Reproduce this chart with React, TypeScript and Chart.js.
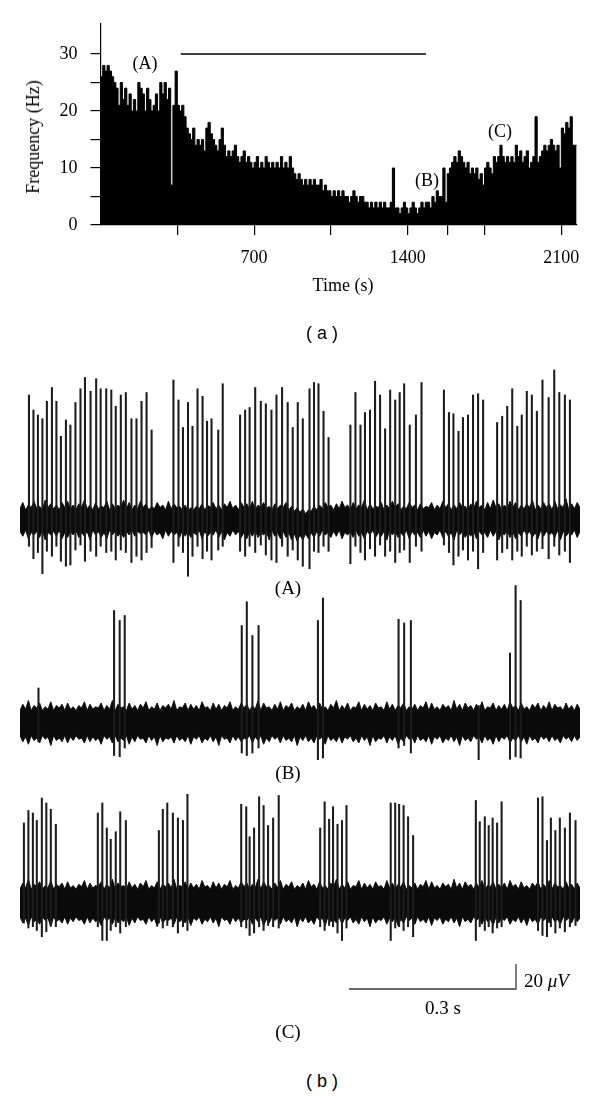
import React, { useEffect, useRef } from 'react';
import { Chart, registerables } from 'chart.js';
Chart.register(...registerables);

// ---------- Panel (a): firing-frequency histogram ----------
const histBinStart = 0;
const histBinWidth = 10; // s
const histValues = [
  25, 26, 28, 27, 28, 27, 26, 25, 24, 21,
  25, 22, 24, 21, 23, 20, 22, 20, 25, 24,
  23, 20, 24, 22, 20, 21, 23, 20, 25, 23,
  25, 22, 24, 7, 21, 27, 21, 20, 21, 19,
  17, 16, 15, 17, 14, 15, 14, 15, 13, 17,
  18, 16, 15, 14, 13, 15, 17, 14, 12, 13,
  12, 13, 14, 12, 11, 12, 13, 11, 12, 11,
  10, 11, 12, 10, 11, 10, 12, 11, 10, 11,
  10, 11, 10, 12, 10, 11, 10, 12, 10, 9,
  8, 9, 8, 7, 8, 7, 8, 7, 8, 7,
  7, 8, 6, 7, 6, 6, 5, 6, 5, 6,
  5, 6, 5, 5, 4, 5, 6, 5, 4, 5,
  5, 4, 4, 3, 4, 3, 4, 3, 4, 3,
  4, 3, 3, 4, 10, 3, 3, 2, 3, 4,
  3, 2, 3, 4, 3, 2, 3, 4, 3, 4,
  4, 3, 5, 4, 6, 5, 5, 10, 4, 9,
  10, 11, 12, 11, 13, 12, 11, 10, 11, 9,
  10, 9, 10, 8, 9, 7, 10, 11, 10, 9,
  12, 11, 12, 14, 12, 11, 12, 11, 12, 11,
  14, 12, 13, 11, 12, 13, 10, 11, 12, 19,
  11, 12, 13, 14, 13, 14, 15, 14, 13, 14,
  10, 17, 16, 18, 17, 19, 14,
];
const stimBarTimes = [366, 1483];
const stimBarLevel = 30;
const histXMax = 2170;
const histYMax = 35.3;
const xTickValues = [350, 700, 1050, 1400, 1583, 1750, 2100];
const xTickLabels = [700, 1400, 2100];
const yTickValues = [0, 5, 10, 15, 20, 25, 30];
const yTickLabels = [0, 10, 20, 30];

// ---------- Panel (b): raw traces (time in s, amplitude in µV) ----------
const noiseStep = 0.005; // s between envelope samples

// Trace (A)
const aUpper = [
  9, 14, 8, 12, 10, 15, 9, 11, 8, 16, 10, 13, 9, 12, 8, 14, 10, 15, 9, 12,
  8, 13, 10, 16, 9, 12, 8, 14, 9, 11, 10, 15, 8, 13, 9, 12, 10, 16, 9, 14,
  8, 12, 9, 15, 10, 13, 8, 11, 9, 14, 10, 12, 8, 15, 9, 13, 10, 11, 8, 12,
  7, 10, 8, 11, 9, 13, 8, 12, 10, 14, 9, 12, 8, 13, 10, 15, 9, 12, 8, 14,
  10, 13, 9, 15, 8, 12, 10, 14, 9, 11, 8, 13, 9, 12, 10, 14, 8, 11, 7, 10,
  6, 9, 5, 8, 7, 11, 8, 12, 9, 14, 10, 12, 8, 13, 9, 15, 10, 12, 8, 14,
  9, 12, 10, 16, 8, 13, 9, 11, 10, 14, 8, 12, 9, 15, 10, 13, 8, 11, 9, 14,
  10, 12, 8, 13, 9, 11, 10, 14, 8, 12, 9, 15, 10, 13, 8, 12, 9, 14, 10, 11,
  8, 13, 9, 15, 10, 12, 8, 14, 9, 16, 10, 13, 8, 12, 9, 15, 10, 14, 8, 12,
  9, 13, 10, 16, 8, 12, 9, 14, 10, 13, 8, 15, 9, 12, 10, 17, 8, 13, 9, 14,
  10,
];
const aLower = [
  -9, -13, -8, -15, -10, -12, -9, -14, -8, -16, -10, -12, -9, -13, -8, -15, -10, -14, -9, -12,
  -8, -14, -10, -13, -9, -16, -8, -12, -9, -14, -10, -15, -8, -12, -9, -13, -10, -14, -9, -12,
  -8, -13, -9, -11, -10, -12, -8, -14, -9, -12, -10, -15, -8, -13, -9, -12, -10, -14, -8, -13,
  -9, -14, -10, -12, -8, -15, -9, -13, -10, -12, -8, -14, -9, -16, -10, -13, -8, -12, -9, -14,
  -10, -15, -9, -13, -8, -14, -10, -12, -9, -16, -8, -13, -10, -15, -9, -14, -10, -16, -11, -17,
  -12, -16, -11, -15, -10, -14, -9, -13, -8, -12, -10, -14, -9, -13, -8, -15, -10, -12, -9, -14,
  -8, -13, -10, -15, -9, -12, -8, -14, -10, -13, -9, -16, -8, -12, -9, -14, -10, -13, -8, -15,
  -9, -12, -10, -14, -8, -13, -9, -15, -10, -12, -8, -14, -9, -13, -10, -16, -8, -12, -9, -14,
  -10, -13, -8, -15, -9, -12, -10, -14, -8, -13, -9, -16, -10, -12, -8, -14, -9, -15, -10, -13,
  -8, -12, -9, -14, -10, -15, -8, -13, -9, -12, -10, -14, -8, -16, -9, -13, -10, -12, -8, -14,
  -9,
];
const aSpikeT = [
  0.016, 0.024, 0.032, 0.040, 0.048, 0.057, 0.065, 0.073, 0.082, 0.090, 0.099, 0.108, 0.116,
  0.126, 0.136, 0.144, 0.154, 0.163, 0.171, 0.180, 0.189, 0.199, 0.208, 0.217, 0.226, 0.235,
  0.274, 0.283, 0.291, 0.300, 0.308, 0.317, 0.326, 0.334, 0.342, 0.354, 0.362,
  0.393, 0.402, 0.410, 0.420, 0.430, 0.439, 0.449, 0.458, 0.468, 0.478, 0.487, 0.496, 0.505,
  0.517, 0.525, 0.533, 0.542, 0.551,
  0.590, 0.599, 0.608, 0.616, 0.625, 0.634, 0.643, 0.652, 0.661, 0.670, 0.678, 0.686, 0.696, 0.707, 0.717,
  0.757, 0.766, 0.774, 0.783, 0.791, 0.800, 0.809, 0.818, 0.827,
  0.852, 0.861, 0.870, 0.879, 0.888, 0.896, 0.905, 0.914, 0.923, 0.933, 0.944, 0.954, 0.963, 0.973, 0.982,
];
const aSpikePeak = [
  100, 88, 84, 81, 95, 106, 95, 67, 80, 76, 94, 105, 114,
  103, 113, 105, 105, 104, 91, 100, 102, 81, 81, 95, 102, 72,
  112, 96, 74, 94, 75, 105, 99, 79, 81, 72, 109,
  84, 88, 90, 106, 95, 93, 88, 100, 106, 94, 74, 94, 81,
  105, 110, 109, 87, 66,
  76, 102, 76, 86, 88, 111, 100, 73, 104, 96, 102, 109, 76, 84, 110,
  104, 86, 85, 71, 82, 84, 100, 101, 96,
  78, 83, 91, 105, 75, 84, 103, 100, 87, 112, 98, 120, 102, 100, 96,
];
const aSpikeTrough = [
  -21, -31, -26, -43, -25, -29, -21, -33, -37, -36, -24, -20, -33,
  -25, -29, -21, -26, -25, -32, -24, -26, -34, -29, -32, -26, -22,
  -34, -21, -26, -45, -29, -21, -31, -25, -32, -24, -21,
  -25, -29, -21, -26, -20, -28, -32, -34, -21, -29, -24, -32, -37,
  -39, -25, -26, -21, -25,
  -35, -21, -26, -32, -23, -29, -20, -29, -25, -34, -26, -24, -34, -21, -25,
  -20, -26, -36, -29, -24, -32, -25, -39, -26,
  -32, -26, -23, -32, -25, -29, -21, -28, -25, -23, -31, -21, -28, -25, -34,
];

// Trace (B)
const bUpper = [
  10, 15, 11, 18, 10, 14, 12, 16, 10, 13, 11, 17, 10, 14, 12, 15, 10, 16, 11, 13,
  10, 14, 12, 17, 10, 15, 11, 13, 12, 16, 10, 14, 11, 18, 10, 15, 12, 13, 10, 16,
  11, 14, 10, 15, 12, 17, 10, 13, 11, 16, 10, 14, 12, 15, 11, 18, 10, 13, 12, 16,
  10, 15, 11, 14, 10, 17, 12, 13, 10, 16, 11, 15, 10, 14, 12, 17, 10, 13, 11, 16,
  12, 15, 10, 14, 11, 18, 10, 16, 12, 13, 10, 15, 11, 17, 10, 14, 12, 16, 10, 13,
  11, 15, 10, 17, 12, 14, 10, 16, 11, 13, 10, 15, 12, 18, 10, 14, 11, 16, 10, 13,
  12, 17, 10, 15, 11, 14, 10, 16, 12, 13, 10, 17, 11, 15, 10, 14, 12, 16, 10, 13,
  11, 15, 10, 14, 12, 17, 10, 16, 11, 13, 10, 15, 12, 14, 10, 18, 11, 15, 10, 16,
  12, 14, 10, 15, 11, 17, 10, 13, 12, 16, 10, 14, 11, 15, 10, 17, 12, 14, 10, 16,
  11, 13, 10, 15, 12, 16, 10, 14, 11, 17, 10, 15, 12, 13, 10, 16, 11, 14, 10, 15,
  11,
];
const bLower = [
  -10, -15, -11, -17, -10, -14, -12, -16, -10, -13, -11, -18, -10, -14, -12, -15, -10, -16, -11, -14,
  -10, -13, -12, -16, -10, -15, -11, -14, -12, -17, -10, -13, -11, -16, -10, -15, -12, -14, -10, -17,
  -11, -15, -10, -13, -12, -16, -10, -14, -11, -18, -10, -15, -12, -13, -11, -16, -10, -14, -12, -15,
  -10, -17, -11, -13, -10, -16, -12, -14, -10, -15, -11, -18, -10, -13, -12, -16, -10, -14, -11, -15,
  -12, -13, -10, -16, -11, -14, -10, -17, -12, -15, -10, -13, -11, -16, -10, -14, -12, -15, -10, -18,
  -11, -14, -10, -15, -12, -16, -10, -13, -11, -17, -10, -14, -12, -15, -10, -16, -11, -13, -10, -15,
  -12, -16, -10, -14, -11, -18, -10, -15, -12, -13, -10, -16, -11, -14, -10, -17, -12, -15, -10, -13,
  -11, -16, -10, -14, -12, -15, -10, -17, -11, -13, -10, -16, -12, -14, -10, -15, -11, -18, -10, -14,
  -12, -15, -10, -13, -11, -16, -10, -14, -12, -17, -10, -15, -11, -13, -10, -16, -12, -14, -10, -15,
  -11, -17, -10, -14, -12, -16, -10, -13, -11, -15, -10, -14, -12, -16, -10, -13, -11, -15, -10, -14,
  -11,
];
const bSpikeT = [0.033, 0.168, 0.178, 0.187, 0.396, 0.405, 0.415, 0.426, 0.532, 0.541, 0.676, 0.686, 0.698, 0.819, 0.875, 0.885, 0.894];
const bSpikePeak = [28, 90, 82, 86, 78, 97, 70, 78, 82, 100, 83, 80, 82, 14, 56, 110, 98];
const bSpikeTrough = [-15, -26, -27, -20, -24, -26, -24, -20, -30, -28, -20, -18, -24, -30, -29, -27, -28];

// Trace (C)
const cUpper = [
  11, 16, 12, 19, 11, 15, 13, 17, 11, 14, 12, 18, 11, 15, 13, 16, 11, 17, 12, 14,
  11, 15, 13, 18, 11, 16, 12, 14, 13, 17, 11, 15, 12, 19, 11, 16, 13, 14, 11, 17,
  12, 15, 11, 16, 13, 18, 11, 14, 12, 17, 11, 15, 13, 16, 12, 19, 11, 14, 13, 17,
  11, 16, 12, 15, 11, 18, 13, 14, 11, 17, 12, 16, 11, 15, 13, 18, 11, 14, 12, 17,
  13, 16, 11, 15, 12, 19, 11, 17, 13, 14, 11, 16, 12, 18, 11, 15, 13, 17, 11, 14,
  12, 16, 11, 18, 13, 15, 11, 17, 12, 14, 11, 16, 13, 19, 11, 15, 12, 17, 11, 14,
  13, 18, 11, 16, 12, 15, 11, 17, 13, 14, 11, 18, 12, 16, 11, 15, 13, 17, 11, 14,
  12, 16, 11, 15, 13, 18, 11, 17, 12, 14, 11, 16, 13, 15, 11, 19, 12, 16, 11, 17,
  13, 15, 11, 16, 12, 18, 11, 14, 13, 17, 11, 15, 12, 16, 11, 18, 13, 15, 11, 17,
  12, 14, 11, 16, 13, 17, 11, 15, 12, 18, 11, 16, 13, 14, 11, 17, 12, 15, 11, 16,
  12,
];
const cLower = [
  -11, -16, -12, -18, -11, -15, -13, -17, -11, -14, -12, -19, -11, -15, -13, -16, -11, -17, -12, -15,
  -11, -14, -13, -17, -11, -16, -12, -15, -13, -18, -11, -14, -12, -17, -11, -16, -13, -15, -11, -18,
  -12, -16, -11, -14, -13, -17, -11, -15, -12, -19, -11, -16, -13, -14, -12, -17, -11, -15, -13, -16,
  -11, -18, -12, -14, -11, -17, -13, -15, -11, -16, -12, -19, -11, -14, -13, -17, -11, -15, -12, -16,
  -13, -14, -11, -17, -12, -15, -11, -18, -13, -16, -11, -14, -12, -17, -11, -15, -13, -16, -11, -19,
  -12, -15, -11, -16, -13, -17, -11, -14, -12, -18, -11, -15, -13, -16, -11, -17, -12, -14, -11, -16,
  -13, -17, -11, -15, -12, -19, -11, -16, -13, -14, -11, -17, -12, -15, -11, -18, -13, -16, -11, -14,
  -12, -17, -11, -15, -13, -16, -11, -18, -12, -14, -11, -17, -13, -15, -11, -16, -12, -19, -11, -15,
  -13, -16, -11, -14, -12, -17, -11, -15, -13, -18, -11, -16, -12, -14, -11, -17, -13, -15, -11, -16,
  -12, -18, -11, -15, -13, -17, -11, -14, -12, -16, -11, -15, -13, -17, -11, -14, -12, -16, -11, -15,
  -12,
];
const cSpikeT = [
  0.007, 0.015, 0.023, 0.030, 0.039, 0.047, 0.055, 0.064,
  0.139, 0.147, 0.155, 0.162, 0.171, 0.179, 0.189,
  0.248, 0.255, 0.263, 0.273, 0.282, 0.291, 0.299,
  0.395, 0.404, 0.410, 0.418, 0.427, 0.435, 0.443, 0.452, 0.462,
  0.536, 0.544, 0.552, 0.559, 0.567, 0.575, 0.583,
  0.662, 0.670, 0.677, 0.685, 0.693, 0.702,
  0.814, 0.821, 0.830, 0.837, 0.844, 0.852, 0.860,
  0.925, 0.933, 0.941, 0.948, 0.956, 0.964, 0.973, 0.982, 0.992,
];
const cSpikePeak = [
  64, 74, 72, 66, 84, 80, 75, 63,
  72, 80, 60, 51, 57, 73, 66,
  58, 75, 80, 72, 68, 66, 87,
  79, 77, 53, 60, 85, 78, 62, 68, 86,
  60, 81, 67, 77, 63, 66, 78,
  80, 80, 79, 78, 69, 54,
  82, 65, 69, 62, 68, 64, 81,
  84, 85, 50, 68, 58, 68, 60, 72, 66,
];
const cSpikeTrough = [
  -16, -20, -19, -22, -27, -23, -18, -19,
  -19, -30, -30, -22, -19, -24, -19,
  -16, -20, -18, -19, -24, -19, -22,
  -19, -20, -26, -24, -19, -22, -18, -19, -20,
  -19, -22, -18, -19, -24, -30, -20,
  -30, -20, -19, -22, -19, -27,
  -30, -19, -22, -19, -24, -20, -19,
  -22, -26, -27, -19, -24, -20, -23, -19, -18,
];

// Scale bar (drawn in trace C's data space)
const scaleBarTimes = [0.5875, 0.8857]; // 0.3 s
const scaleBarBase = -68.8; // µV
const scaleBarAmp = 20; // µV

const SERIF = '"Liberation Serif", "Times New Roman", serif';
const SANS = '"Liberation Sans", Arial, sans-serif';

function HistChart() {
  const ref = useRef<HTMLCanvasElement>(null);
  useEffect(() => {
    const pts = histValues.map((v, i) => ({ x: histBinStart + i * histBinWidth, y: v }));
    pts.push({ x: histBinStart + histValues.length * histBinWidth, y: histValues[histValues.length - 1] });
    const chart = new Chart(ref.current as HTMLCanvasElement, {
      type: 'line',
      data: {
        datasets: [
          {
            data: pts,
            stepped: 'after',
            fill: 'origin',
            backgroundColor: '#000',
            borderColor: '#000',
            borderWidth: 1,
            pointRadius: 0,
          } as any,
          {
            data: stimBarTimes.map((t) => ({ x: t, y: stimBarLevel })),
            borderColor: '#000',
            borderWidth: 1.5,
            pointRadius: 0,
            fill: false,
          },
        ],
      },
      options: {
        animation: false,
        responsive: false,
        devicePixelRatio: 1,
        layout: { padding: { left: 0, right: 23.3, top: 19, bottom: 0 } },
        plugins: { legend: { display: false }, tooltip: { enabled: false } },
        scales: {
          x: {
            type: 'linear',
            min: 0,
            max: histXMax,
            afterFit: (s: any) => {
              s.height = 75;
            },
            afterBuildTicks: (s: any) => {
              s.ticks = xTickValues.map((v) => ({ value: v }));
            },
            ticks: {
              autoSkip: false,
              maxRotation: 0,
              padding: 12,
              color: '#000',
              font: { family: SERIF, size: 18 },
              callback: (v: any) => (xTickLabels.includes(Number(v)) ? String(v) : ''),
            },
            grid: { drawOnChartArea: false, drawTicks: true, tickLength: 10, color: '#000', lineWidth: 1.2 },
            border: { display: true, color: '#000', width: 1.2 },
          },
          y: {
            type: 'linear',
            min: 0,
            max: histYMax,
            afterFit: (s: any) => {
              s.width = 100.5;
            },
            afterBuildTicks: (s: any) => {
              s.ticks = yTickValues.map((v) => ({ value: v }));
            },
            ticks: {
              autoSkip: false,
              padding: 13,
              color: '#000',
              font: { family: SERIF, size: 18 },
              callback: (v: any) => (yTickLabels.includes(Number(v)) ? String(v) : ''),
            },
            grid: { drawOnChartArea: false, drawTicks: true, tickLength: 10, color: '#000', lineWidth: 1.2 },
            border: { display: true, color: '#000', width: 1.2 },
          },
        },
      },
    });
    return () => chart.destroy();
  }, []);
  return (
    <canvas
      ref={ref}
      width={600}
      height={300}
      style={{ position: 'absolute', left: 0, top: 0, width: 600, height: 300 }}
    />
  );
}

type TraceProps = {
  top: number;
  height: number;
  yMin: number;
  yMax: number;
  upper: number[];
  lower: number[];
  spikeT: number[];
  spikePeak: number[];
  spikeTrough: number[];
  withScaleBar?: boolean;
};

function TraceChart(p: TraceProps) {
  const ref = useRef<HTMLCanvasElement>(null);
  useEffect(() => {
    const datasets: any[] = [
      {
        type: 'line',
        data: p.lower.map((v, i) => ({ x: i * noiseStep, y: v })),
        borderColor: '#111',
        borderWidth: 1,
        pointRadius: 0,
        fill: false,
        order: 3,
      },
      {
        type: 'line',
        data: p.upper.map((v, i) => ({ x: i * noiseStep, y: v })),
        borderColor: '#111',
        backgroundColor: '#0a0a0a',
        borderWidth: 1,
        pointRadius: 0,
        fill: '-1',
        order: 2,
      },
      {
        type: 'bar',
        data: p.spikeT.map((t, i) => ({ x: t, y: [p.spikeTrough[i], p.spikePeak[i]] })),
        backgroundColor: '#1c1c1c',
        barThickness: 1.4,
        order: 1,
      },
    ];
    if (p.withScaleBar) {
      datasets.push({
        type: 'line',
        data: [
          { x: scaleBarTimes[0], y: scaleBarBase },
          { x: scaleBarTimes[1], y: scaleBarBase },
          { x: scaleBarTimes[1], y: scaleBarBase + scaleBarAmp },
        ],
        borderColor: '#3a3a3a',
        borderWidth: 1.3,
        pointRadius: 0,
        fill: false,
        order: 0,
      });
    }
    const chart = new Chart(ref.current as HTMLCanvasElement, {
      type: 'bar',
      data: { datasets },
      options: {
        animation: false,
        responsive: false,
        devicePixelRatio: 1,
        layout: { padding: { left: 20, right: 20, top: 0, bottom: 0 } },
        plugins: { legend: { display: false }, tooltip: { enabled: false } },
        scales: {
          x: { type: 'linear', min: 0, max: 1, display: false, offset: false, grid: { offset: false } },
          y: { type: 'linear', min: p.yMin, max: p.yMax, display: false },
        },
      },
    });
    return () => chart.destroy();
  }, []);
  return (
    <canvas
      ref={ref}
      width={600}
      height={p.height}
      style={{ position: 'absolute', left: 0, top: p.top, width: 600, height: p.height }}
    />
  );
}

function Label(props: { x: number; y: number; size: number; family?: string; rotate?: boolean; children: React.ReactNode }) {
  return (
    <div
      style={{
        position: 'absolute',
        left: props.x,
        top: props.y,
        transform: `translate(-50%, -50%)${props.rotate ? ' rotate(-90deg)' : ''}`,
        fontFamily: props.family || SERIF,
        fontSize: props.size,
        lineHeight: 1,
        whiteSpace: 'nowrap',
        color: '#000',
      }}
    >
      {props.children}
    </div>
  );
}

export default function App() {
  return (
    <div
      style={{
        position: 'absolute',
        left: 0,
        top: 0,
        width: 600,
        height: 1096,
        background: '#fff',
        overflow: 'hidden',
      }}
    >
      <HistChart />
      <TraceChart top={360} height={220} yMin={-48} yMax={128} upper={aUpper} lower={aLower} spikeT={aSpikeT} spikePeak={aSpikePeak} spikeTrough={aSpikeTrough} />
      <TraceChart top={580} height={180} yMin={-29.6} yMax={114.4} upper={bUpper} lower={bLower} spikeT={bSpikeT} spikePeak={bSpikePeak} spikeTrough={bSpikeTrough} />
      <TraceChart top={780} height={220} yMin={-77.6} yMax={98.4} upper={cUpper} lower={cLower} spikeT={cSpikeT} spikePeak={cSpikePeak} spikeTrough={cSpikeTrough} withScaleBar />

      <Label x={33} y={137} size={18} rotate>Frequency (Hz)</Label>
      <Label x={343} y={285} size={18}>Time (s)</Label>
      <Label x={145} y={63} size={18}>(A)</Label>
      <Label x={427} y={180} size={18}>(B)</Label>
      <Label x={500} y={131} size={18}>(C)</Label>
      <Label x={322} y={333} size={18} family={SANS}>( a )</Label>

      <Label x={288} y={587} size={19}>(A)</Label>
      <Label x={288} y={772} size={19}>(B)</Label>
      <Label x={288} y={1031} size={19}>(C)</Label>

      <Label x={443} y={1007} size={19}>0.3 s</Label>
      <div
        style={{
          position: 'absolute',
          left: 524,
          top: 980,
          transform: 'translate(0, -50%)',
          fontFamily: SERIF,
          fontSize: 19,
          lineHeight: 1,
          whiteSpace: 'nowrap',
        }}
      >
        20 <i>μV</i>
      </div>
      <Label x={322} y={1081} size={18} family={SANS}>( b )</Label>
    </div>
  );
}
